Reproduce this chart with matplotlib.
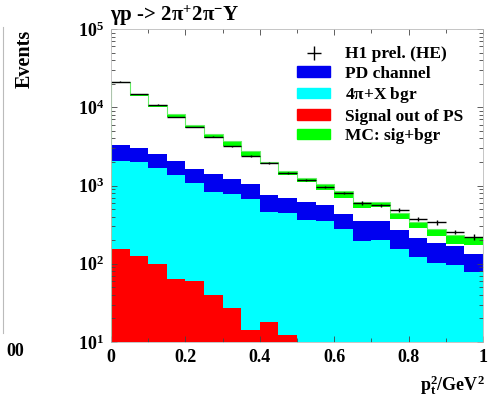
import numpy as np
import matplotlib
matplotlib.use('Agg')
import matplotlib.pyplot as plt
from matplotlib.patches import Patch
from matplotlib.lines import Line2D
from matplotlib.ticker import LogLocator, MultipleLocator, LogFormatterMathtext, FuncFormatter

plt.rcParams['font.family'] = ['Liberation Serif', 'DejaVu Serif']
plt.rcParams['font.weight'] = 'bold'
plt.rcParams['mathtext.fontset'] = 'custom'
plt.rcParams['mathtext.rm'] = 'Liberation Serif:bold'
plt.rcParams['mathtext.bf'] = 'Liberation Serif:bold'
plt.rcParams['mathtext.it'] = 'Liberation Serif:bold'
plt.rcParams['mathtext.default'] = 'bf'

# pt^2 bins, 0..1 GeV^2, width 0.05
edges = np.linspace(0, 1, 21)

# H1 preliminary data
data = [21200, 14760, 10780, 7500, 5600, 4200, 3170, 2380, 1940, 1458,
        1187, 948, 809, 597, 558, 482, 377, 339, 255, 220]
data_err_frac = [0.01, 0.01, 0.01, 0.01, 0.01, 0.015, 0.015, 0.02, 0.02, 0.025,
                 0.03, 0.03, 0.035, 0.05, 0.05, 0.06, 0.06, 0.07, 0.07, 0.08]

# MC sig+bgr band
mc_hi = [21200, 14760, 10780, 8200, 5930, 4510, 3680, 2780, 1996, 1545,
         1247, 1036, 843, 621, 621, 449, 344, 275, 231, 218]
mc_lo = [20200, 14000, 10100, 7430, 5380, 4080, 3170, 2380, 1866, 1350,
         1099, 876, 686, 511, 527, 370, 284, 226, 179, 174]

# PD channel (stacked on 4pi+X)
pd_top = [3320, 3015, 2528, 2075, 1640, 1403, 1222, 1045, 750, 692,
          621, 563, 432, 355, 355, 270, 211, 182, 169, 133]
# 4pi+X background
bgr = [2075, 1996, 1673, 1350, 1067, 826, 779, 679, 462, 441,
       359, 349, 275, 197, 201, 156, 123, 103, 95, 78]
# signal out of phase space
sig_out = [156, 126, 99, 64, 60, 39.5, 27.2, 14.2, 18, 12.2,
           0, 0, 0, 0, 0, 0, 0, 0, 0, 0]

fig = plt.figure(figsize=(4.88, 4.03), dpi=100)
ax = fig.add_axes([0.2275, 0.1514, 0.7623, 0.7766])
ax.set_yscale('log')

base = 1.0
ax.stairs(pd_top, edges, baseline=base, fill=True, color='#0000f0', lw=0)
ax.stairs(bgr, edges, baseline=base, fill=True, color='#00ffff', lw=0)
ax.stairs(np.clip(sig_out, base, None), edges, baseline=base, fill=True, color='#ff0000', lw=0)
ax.stairs(mc_hi, edges, baseline=mc_lo, fill=True, color='#00ff00', lw=0)
ax.stairs(mc_hi, edges, baseline=base, color='#66ee66', lw=0.8)

centers = 0.5 * (edges[1:] + edges[:-1])
data = np.array(data)
ax.errorbar(centers, data, xerr=0.025, yerr=data * np.array(data_err_frac),
            fmt='none', ecolor='black', elinewidth=1.0, capsize=0)

ax.set_xlim(0, 1)
ax.set_ylim(10, 1e5)

ax.xaxis.set_major_locator(MultipleLocator(0.2))
ax.xaxis.set_minor_locator(MultipleLocator(0.1))
ax.xaxis.set_major_formatter(FuncFormatter(lambda v, p: '%g' % round(v, 2)))
ax.yaxis.set_major_locator(LogLocator(base=10))
ax.yaxis.set_minor_locator(LogLocator(base=10, subs=np.arange(2, 10)))
ax.yaxis.set_major_formatter(LogFormatterMathtext())
ax.tick_params(which='both', direction='in', top=True, right=True,
               colors='#444444', labelcolor='black', labelsize=13, width=0.6)
ax.tick_params(which='major', length=4.5, pad=5)
ax.tick_params(which='minor', length=2.6)
for s in ax.spines.values():
    s.set_color('#bbbbbb')
    s.set_linewidth(0.6)

handles = [Line2D([], [], color='black', marker='+', markersize=10, lw=0, mew=1.0),
           Patch(color='#0000f0'), Patch(color='#00ffff'),
           Patch(color='#ff0000'), Patch(color='#00ff00')]
labels = ['H1 prel. (HE)', 'PD channel', r'4$\pi$+X bgr', 'Signal out of PS', 'MC: sig+bgr']
ax.legend(handles, labels, loc='upper left', bbox_to_anchor=(0.5, 0.945),
          frameon=False, prop={'size': 12.5, 'weight': 'bold'},
          handlelength=1.9, handleheight=0.55, labelspacing=0.2,
          handletextpad=0.85, borderpad=0, borderaxespad=0)

fig.text(110 / 488, 1 - 16 / 403, r'$\gamma$p -> 2$\pi^{+}$2$\pi^{-}$Y',
         ha='left', va='center', fontsize=15, fontweight='bold')
fig.text(25 / 488, 1 - 59 / 403, 'Events', rotation=90, ha='center', va='center',
         fontsize=14.5, fontweight='bold')
fig.text(485 / 488, 1 - 385 / 403, r'p$_{t}^{2}$/GeV$^{2}$', ha='right', va='center',
         fontsize=13, fontweight='bold')

# edge of the neighbouring panel
side = fig.add_axes([-0.05, 0.1737, 0.0567, 0.76])
side.set_xticks([])
side.set_yticks([])
for k in ['left', 'top', 'bottom']:
    side.spines[k].set_visible(False)
side.spines['right'].set_color('#bbbbbb')
fig.text(24 / 488, 1 - 351 / 403, '00', ha='right', va='center',
         fontsize=13, fontweight='bold')

fig.savefig('out.png', dpi=100)
